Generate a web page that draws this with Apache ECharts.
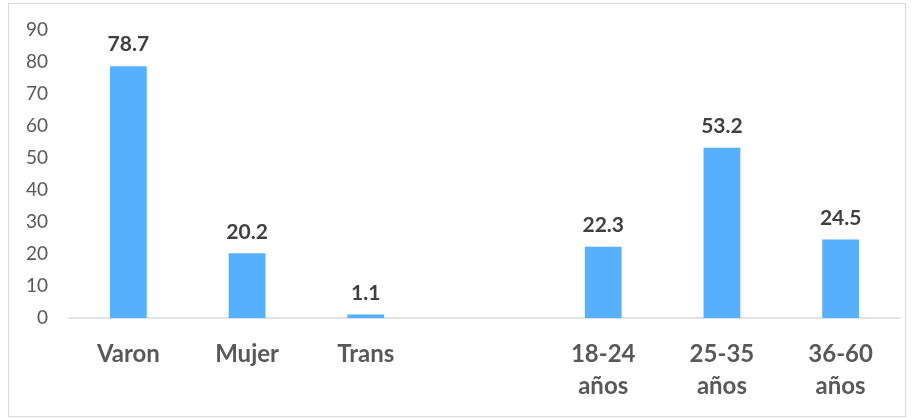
<!DOCTYPE html>
<html>
<head>
<meta charset="utf-8">
<script src="https://cdn.jsdelivr.net/npm/echarts@6/dist/echarts.min.js"></script>
<style>
  html, body { margin: 0; padding: 0; background: #fff; }
  #main { width: 915px; height: 419px; }
</style>
</head>
<body>
<div id="main"></div>
<script>
// categorias (la quinta queda vacia como separador)
var categories = ['Varon', 'Mujer', 'Trans', '', '18-24\naños', '25-35\naños', '36-60\naños'];
var values = [78.7, 20.2, 1.1, null, 22.3, 53.2, 24.5];
var yTicks = [0, 10, 20, 30, 40, 50, 60, 70, 80, 90];

var chart = echarts.init(document.getElementById('main'));

chart.setOption({
  animation: false,
  textStyle: { fontFamily: 'Lato' },
  graphic: [{
    type: 'rect',
    shape: { x: 8.5, y: 3.5, width: 897, height: 413 },
    style: { fill: 'none', stroke: '#d9d9d9', lineWidth: 1 },
    silent: true
  }],
  grid: { left: 69, right: 15, top: 30, bottom: 101 },
  xAxis: {
    type: 'category',
    data: categories,
    axisLine: { lineStyle: { color: '#d9d9d9', width: 1.5 } },
    axisTick: { show: false },
    axisLabel: {
      color: '#595959',
      fontWeight: 'bold',
      fontSize: 24,
      margin: 20,
      lineHeight: 32,
      interval: 0
    }
  },
  yAxis: {
    type: 'value',
    min: yTicks[0],
    max: yTicks[yTicks.length - 1],
    interval: 10,
    splitLine: { show: false },
    axisLine: { show: false },
    axisTick: { show: false },
    axisLabel: { color: '#595959', fontSize: 19, margin: 21 }
  },
  series: [{
    type: 'bar',
    data: values,
    barWidth: '31%',
    itemStyle: { color: '#56b0ff' },
    label: {
      show: true,
      position: 'top',
      distance: 11,
      color: '#404040',
      fontWeight: 'bold',
      fontSize: 21,
      formatter: function (p) { return p.value.toFixed(1); }
    }
  }]
});
</script>
</body>
</html>
